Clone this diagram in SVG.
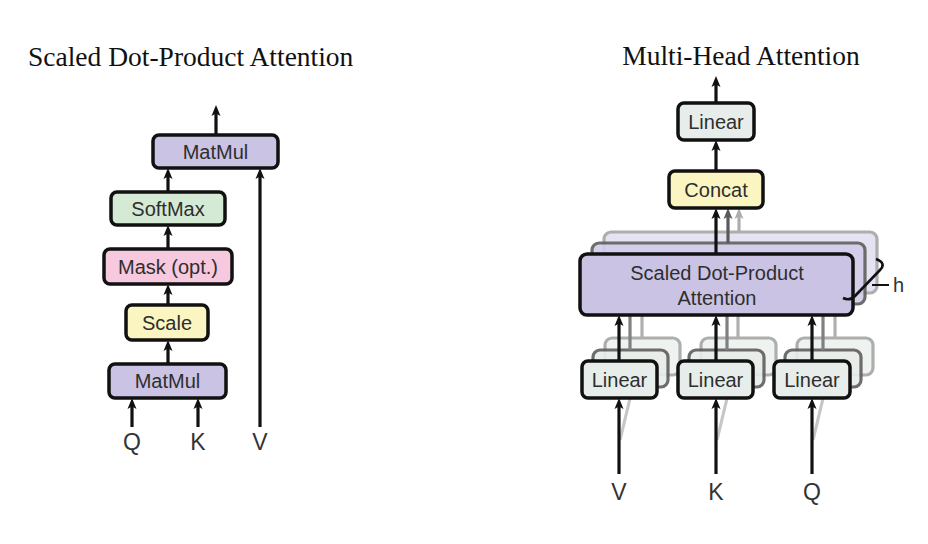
<svg xmlns="http://www.w3.org/2000/svg" width="928" height="544" viewBox="0 0 928 544">
<defs>
<style>
.title{font-family:"Liberation Serif","Times New Roman",serif;font-size:27.5px;fill:#111}
.lbl{font-family:"Liberation Sans",Arial,sans-serif;font-size:20px;fill:#2e2e2e;text-anchor:middle}
.io{font-family:"Liberation Sans",Arial,sans-serif;font-size:23px;fill:#333;text-anchor:middle}
.box{stroke:#111;stroke-width:3.5}
.mid{stroke:#5e5e5e;stroke-width:3.2;opacity:.9}
.back{stroke:#a0a0a0;stroke-width:3.2;opacity:.85}
.conn{stroke:#111;stroke-width:3.2;fill:none}
.purple{fill:#cac3e4}
.purple2{fill:#d2cce9}
.purple3{fill:#e1ddf0}
.green{fill:#d5ead5}
.pink{fill:#f7c9de}
.yellow{fill:#fbf5c2}
.gray{fill:#e7edea}
.gray2{fill:#edf1ee}
</style>
<marker id="ah" markerUnits="userSpaceOnUse" markerWidth="11" markerHeight="10" viewBox="0 0 11 10" refX="6" refY="5" orient="auto"><path d="M0,0.5 L11,5 L0,9.5 L2.5,5 z" fill="#111"/></marker>
<marker id="ah2" markerUnits="userSpaceOnUse" markerWidth="11" markerHeight="10" viewBox="0 0 11 10" refX="6" refY="5" orient="auto"><path d="M0,0.5 L11,5 L0,9.5 L2.5,5 z" fill="#5a5a5a"/></marker>
<marker id="ah3" markerUnits="userSpaceOnUse" markerWidth="11" markerHeight="10" viewBox="0 0 11 10" refX="6" refY="5" orient="auto"><path d="M0,0.5 L11,5 L0,9.5 L2.5,5 z" fill="#adadad"/></marker>
<filter id="soft" x="-10%" y="-20%" width="120%" height="140%"><feGaussianBlur stdDeviation="0.7"/></filter>
</defs>
<rect width="928" height="544" fill="#fff"/>

<text class="title" x="28" y="66">Scaled Dot-Product Attention</text>
<text class="title" x="741" y="65" text-anchor="middle">Multi-Head Attention</text>

<!-- stacked back layers (multi-head) -->
<g id="sdpa-heads-back" filter="url(#soft)">
  <rect class="back purple3" x="604" y="232" width="273" height="61" rx="7"/>
  <rect class="mid purple2" x="592" y="243" width="273" height="61" rx="7"/>
</g>
<g id="linear-heads-back" filter="url(#soft)">
  <rect class="back gray2" x="605" y="338" width="75" height="37" rx="7"/>
  <rect class="mid gray" x="593" y="350" width="75" height="37" rx="7"/>
  <rect class="back gray2" x="701" y="338" width="75" height="37" rx="7"/>
  <rect class="mid gray" x="689" y="350" width="75" height="37" rx="7"/>
  <rect class="back gray2" x="797" y="338" width="76" height="37" rx="7"/>
  <rect class="mid gray" x="785" y="350" width="76" height="37" rx="7"/>
</g>

<g id="connectors">
  <!-- left -->
  <path class="conn" d="M216,135 L216,110" marker-end="url(#ah)"/>
  <path class="conn" d="M168,192 L168,173" marker-end="url(#ah)"/>
  <path class="conn" d="M168,249 L168,230" marker-end="url(#ah)"/>
  <path class="conn" d="M168,305 L168,289" marker-end="url(#ah)"/>
  <path class="conn" d="M168,364 L168,345" marker-end="url(#ah)"/>
  <path class="conn" d="M132,427 L132,403" marker-end="url(#ah)"/>
  <path class="conn" d="M198,427 L198,403" marker-end="url(#ah)"/>
  <path class="conn" d="M260,427 L260,173" marker-end="url(#ah)"/>
  <!-- right -->
  <path class="conn" d="M716,103 L716,81" marker-end="url(#ah)"/>
  <path class="conn" d="M716,171 L716,145" marker-end="url(#ah)"/>
  <path class="conn" d="M739,232 L739,213" style="stroke:#adadad" marker-end="url(#ah3)"/>
  <path class="conn" d="M728,243 L728,213" style="stroke:#5a5a5a" marker-end="url(#ah2)"/>
  <path class="conn" d="M716,254 L716,213" marker-end="url(#ah)"/>
  <g filter="url(#soft)">
    <path class="conn" d="M642,338 L642,315 M738,338 L738,315 M835,338 L835,315" style="stroke:#b0b0b0"/>
    <path class="conn" d="M630,350 L630,315 M727,350 L727,315 M823,350 L823,315" style="stroke:#808080"/>
    <path class="conn" d="M620,440 L633,386 M717,440 L730,386 M813,440 L826,386" style="stroke:#999;opacity:.55"/>
  </g>
  <path class="conn" d="M619,361 L619,320" marker-end="url(#ah)"/>
  <path class="conn" d="M716,361 L716,320" marker-end="url(#ah)"/>
  <path class="conn" d="M812,361 L812,320" marker-end="url(#ah)"/>
  <path class="conn" d="M619,474 L619,403" marker-end="url(#ah)"/>
  <path class="conn" d="M716,474 L716,403" marker-end="url(#ah)"/>
  <path class="conn" d="M812,474 L812,403" marker-end="url(#ah)"/>
</g>

<!-- left diagram nodes -->
<g id="matmul-top">
  <rect class="box purple" x="153" y="135" width="125" height="33" rx="6"/>
  <text class="lbl" x="215.5" y="158.5">MatMul</text>
</g>
<g id="softmax">
  <rect class="box green" x="111" y="192" width="114" height="33" rx="6"/>
  <text class="lbl" x="168" y="215.5">SoftMax</text>
</g>
<g id="mask">
  <rect class="box pink" x="104" y="249" width="128" height="35" rx="6"/>
  <text class="lbl" x="168" y="273.5">Mask (opt.)</text>
</g>
<g id="scale">
  <rect class="box yellow" x="126" y="305" width="82" height="35" rx="6"/>
  <text class="lbl" x="167" y="329.5">Scale</text>
</g>
<g id="matmul-bottom">
  <rect class="box purple" x="109" y="364" width="117" height="34" rx="6"/>
  <text class="lbl" x="167.5" y="388">MatMul</text>
</g>
<g id="inputs-left">
  <text class="io" x="132" y="450">Q</text>
  <text class="io" x="198" y="450">K</text>
  <text class="io" x="260" y="450">V</text>
</g>

<!-- right diagram nodes -->
<g id="linear-out">
  <rect class="box gray" x="678" y="103" width="76" height="37" rx="6"/>
  <text class="lbl" x="716" y="128.5">Linear</text>
</g>
<g id="concat">
  <rect class="box yellow" x="669" y="171" width="94" height="37" rx="6"/>
  <text class="lbl" x="716" y="196.5">Concat</text>
</g>
<g id="sdpa">
  <rect class="box purple" x="580" y="254" width="273" height="61" rx="7"/>
  <text class="lbl" x="717" y="280">Scaled Dot-Product</text>
  <text class="lbl" x="717" y="305">Attention</text>
</g>
<g id="heads-brace">
  <path d="M876,259 C884,262 884,266 880,270 L855,296 C851,300 847,300 843,298" fill="none" stroke="#111" stroke-width="2.6"/>
  <path d="M872,285 L889,285" stroke="#111" stroke-width="2"/>
  <text x="893" y="292" style="font-family:'Liberation Sans',Arial,sans-serif;font-size:20px;fill:#333">h</text>
</g>
<g id="linear-v">
  <rect class="box gray" x="582" y="361" width="75" height="37" rx="6"/>
  <text class="lbl" x="619.5" y="386.5">Linear</text>
</g>
<g id="linear-k">
  <rect class="box gray" x="678" y="361" width="75" height="37" rx="6"/>
  <text class="lbl" x="715.5" y="386.5">Linear</text>
</g>
<g id="linear-q">
  <rect class="box gray" x="774" y="361" width="76" height="37" rx="6"/>
  <text class="lbl" x="812" y="386.5">Linear</text>
</g>
<g id="inputs-right">
  <text class="io" x="619" y="500">V</text>
  <text class="io" x="716" y="500">K</text>
  <text class="io" x="812" y="500">Q</text>
</g>
</svg>
